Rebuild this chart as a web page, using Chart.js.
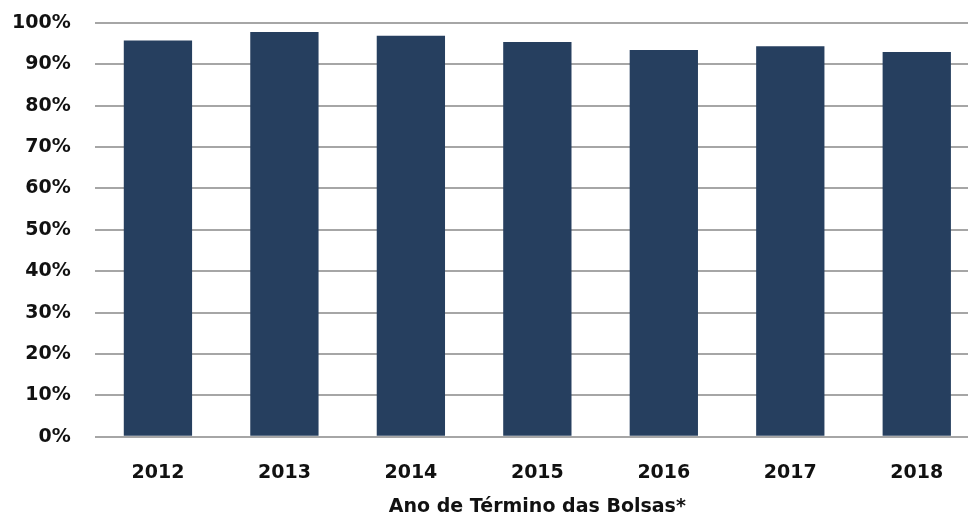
<!DOCTYPE html>
<html>
<head>
<meta charset="utf-8">
<script src="https://cdn.jsdelivr.net/npm/chart.js@4.4.1/dist/chart.umd.min.js"></script>
<style>
    html, body { margin: 0; padding: 0; background: #fff; overflow: hidden; }
    #wrap { width: 982px; height: 524px; position: relative; }
</style>
</head>
<body>
<div id="wrap"><canvas id="barChart"></canvas></div>
<script>
const years = ["2012", "2013", "2014", "2015", "2016", "2017", "2018"];
const percentValues = [95.8, 97.8, 96.9, 95.4, 93.5, 94.4, 93.0];
const yTicks = [0, 10, 20, 30, 40, 50, 60, 70, 80, 90, 100];
const xTitle = "Ano de Término das Bolsas*";

const barColor = "#263F5F";
const gridColor = "#A6A6A6";

new Chart("barChart", {
    type: "bar",
    data: {
        labels: years,
        datasets: [{
            data: percentValues,
            backgroundColor: barColor,
            borderWidth: 0,
            categoryPercentage: 1,
            barPercentage: 0.54,
        }]
    },
    options: {
        responsive: true,
        maintainAspectRatio: false,
        animation: false,
        layout: {
            padding: { top: 23, right: 2, bottom: 0, left: 0 }
        },
        plugins: {
            legend: { display: false },
            tooltip: { enabled: false }
        },
        scales: {
            x: {
                grid: { display: false, drawTicks: false },
                border: { display: false },
                ticks: {
                    color: "#111",
                    padding: 25,
                    font: { family: "DejaVu Sans", weight: "bold", size: 19 }
                },
                title: {
                    display: true,
                    text: xTitle,
                    color: "#111",
                    padding: { top: 0, bottom: 6 },
                    font: { family: "DejaVu Sans", weight: "bold", size: 19 }
                },
                afterFit: (scale) => {
                    scale.height = 87.3;
                    scale.paddingLeft = 0;
                    scale.paddingRight = 0;
                }
            },
            y: {
                min: 0,
                max: 100,
                afterBuildTicks: (scale) => {
                    scale.ticks = yTicks.map(v => ({ value: v }));
                },
                grid: {
                    color: gridColor,
                    lineWidth: 2,
                    drawTicks: false
                },
                border: { display: false },
                ticks: {
                    color: "#111",
                    padding: 24,
                    callback: (v) => v + "%",
                    font: { family: "DejaVu Sans", weight: "bold", size: 19 }
                },
                afterFit: (scale) => {
                    scale.width = 94.7;
                    scale.paddingTop = 0;
                    scale.paddingBottom = 0;
                }
            }
        }
    }
});
</script>
</body>
</html>
